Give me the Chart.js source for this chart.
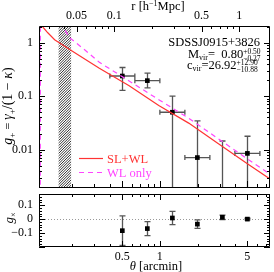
<!DOCTYPE html>
<html>
<head>
<meta charset="utf-8">
<script src="https://cdn.jsdelivr.net/npm/chart.js@4.4.0/dist/chart.umd.min.js"></script>
<style>
    html, body { margin: 0; padding: 0; background: #fff; }
    #wrap { position: relative; width: 274px; height: 272px; overflow: hidden; }
    canvas { position: absolute; left: 0; }
    #mainChart { top: 0; }
    #crossChart { top: 190px; }
</style>
</head>
<body>
<div id="wrap">
    <canvas id="mainChart" width="274" height="191"></canvas>
    <canvas id="crossChart" width="274" height="82"></canvas>
</div>
<script>
// ── Data ───────────────────────────────────────────────────────────────
const thetaBins  = [0.501, 0.794, 1.259, 1.995, 3.162, 5.012];
const thetaBinLo = [0.398, 0.631, 1.000, 1.585, 2.512, 3.981];
const thetaBinHi = [0.631, 1.000, 1.585, 2.512, 3.981, 6.310];

const gPlus      = [0.238, 0.195, 0.050, 0.0071, -0.005, 0.0085];
const gPlusErrHi = [0.105, 0.075, 0.050, 0.0274, 0.0195, 0.0093];
const gPlusErrLo = [0.110, 0.052, 0.060, 0.0300, 0.0195, 0.0093];

const gCross    = [-0.083, -0.068, 0.008, -0.036, 0.013, 0.000];
const gCrossErr = [0.106, 0.050, 0.048, 0.030, 0.016, 0.006];

// model curves
const slWlTheta = [0.1118, 0.1157, 0.127, 0.144, 0.19, 0.328, 0.568, 0.98, 1.70, 2.94, 5.08, 7.6];
const slWlG     = [2.64, 1.97, 1.53, 1.135, 0.744, 0.333, 0.156, 0.067, 0.0313, 0.0129, 0.0053, 0.00282];
const wlTheta   = [0.1105, 0.1107, 0.15, 0.19, 0.249, 0.328, 0.568, 0.98, 1.70, 2.94, 5.08, 7.6];
const wlG       = [0.0015, 8, 3, 1.235, 0.744, 0.43, 0.192, 0.086, 0.0387, 0.0159, 0.00656, 0.00348];

// excluded (hatched) range, arcmin
const hatchTheta = [0.155, 0.195];

// axes
const thetaMin = 0.108, thetaMax = 7.6;
const gMin = 0.002, gMax = 2.05;
const gxMin = -0.2, gxMax = 0.18;
const mpcPerArcmin = 0.232;

const thetaTicks = [0.5, 1, 5];
const rTicks = [0.05, 0.1, 0.5, 1];
const gTicks = [0.01, 0.1, 1];
const gxTicks = [-0.1, 0, 0.1];

const RED = '#ff3333';
const MAGENTA = '#ff44ff';
const FONT = "'Liberation Serif', 'DejaVu Serif', serif";

// ── Helpers ────────────────────────────────────────────────────────────
function logMarks(min, max, majors) {
    const out = [];
    for (let e = Math.floor(Math.log10(min)) - 1; e <= Math.ceil(Math.log10(max)); e++) {
        for (let m = 1; m <= 9; m++) {
            const v = m * Math.pow(10, e);
            if (v >= min && v <= max) out.push({ v, major: majors.includes(m) });
        }
    }
    return out;
}

function linMarks(min, max, step, every) {
    const out = [];
    for (let i = Math.ceil(min / step); i * step <= max + 1e-9; i++) {
        out.push({ v: i * step, major: i % every === 0 });
    }
    return out;
}

function tickX(ctx, scale, a, marks, top, bottom) {
    marks.forEach(m => {
        const px = Math.round(scale.getPixelForValue(m.v)) + 0.5;
        const len = m.major ? 6 : 3;
        if (top) { ctx.moveTo(px, a.top); ctx.lineTo(px, a.top + len); }
        if (bottom) { ctx.moveTo(px, a.bottom); ctx.lineTo(px, a.bottom - len); }
    });
}

function tickY(ctx, scale, a, marks) {
    marks.forEach(m => {
        const py = Math.round(scale.getPixelForValue(m.v)) + 0.5;
        const len = m.major ? 6 : 3;
        ctx.moveTo(a.left, py); ctx.lineTo(a.left + len, py);
        ctx.moveTo(a.right, py); ctx.lineTo(a.right - len, py);
    });
}

// no extra label padding: keep the plot box where we put it
function fixBox(size, key) {
    return s => {
        s[key] = size;
        s.paddingTop = 0; s.paddingBottom = 0; s.paddingLeft = 0; s.paddingRight = 0;
    };
}

// parts: [{t, size, dy, italic, color, stack}] drawn left to right
function richText(ctx, parts, x, y, align) {
    const widthOf = p => {
        ctx.font = (p.italic ? 'italic ' : '') + p.size + 'px ' + FONT;
        if (p.stack) return Math.max(...p.stack.map(s => { ctx.font = s.size + 'px ' + FONT; return ctx.measureText(s.t).width; }));
        return ctx.measureText(p.t).width;
    };
    const total = parts.reduce((s, p) => s + widthOf(p), 0);
    let cx = align === 'center' ? x - total / 2 : (align === 'right' ? x - total : x);
    ctx.textAlign = 'left';
    ctx.textBaseline = 'alphabetic';
    parts.forEach(p => {
        const w = widthOf(p);
        if (p.stack) {
            p.stack.forEach(s => {
                ctx.font = s.size + 'px ' + FONT;
                ctx.fillStyle = p.color || '#000';
                ctx.fillText(s.t, cx, y + s.dy);
            });
        } else {
            ctx.font = (p.italic ? 'italic ' : '') + p.size + 'px ' + FONT;
            ctx.fillStyle = p.color || '#000';
            ctx.fillText(p.t, cx, y + (p.dy || 0));
        }
        cx += w;
    });
}

function errorBarsV(ctx, xs, ys, a, xv, yv, hi, lo, cap) {
    const px = Math.round(xs.getPixelForValue(xv)) + 0.5;
    const top = ys.getPixelForValue(yv + hi);
    const botVal = yv - lo;
    let bot = ys.getPixelForValue(botVal);
    if (!isFinite(bot) || botVal <= 0 && ys.type === 'logarithmic') bot = a.bottom + 2;
    ctx.moveTo(px, top); ctx.lineTo(px, bot);
    ctx.moveTo(px - cap, top); ctx.lineTo(px + cap, top);
    if (bot < a.bottom) { ctx.moveTo(px - cap, bot); ctx.lineTo(px + cap, bot); }
}

function errorBarsH(ctx, xs, ys, xlo, xhi, yv, cap) {
    const py = ys.getPixelForValue(yv);
    if (!isFinite(py)) return;
    const l = xs.getPixelForValue(xlo), r = xs.getPixelForValue(xhi);
    ctx.moveTo(l, py); ctx.lineTo(r, py);
    ctx.moveTo(l, py - cap); ctx.lineTo(l, py + cap);
    ctx.moveTo(r, py - cap); ctx.lineTo(r, py + cap);
}

const tickFont = { family: FONT, size: 12 };

// ── Main panel decorations ─────────────────────────────────────────────
const mainDecor = {
    id: 'mainDecor',
    beforeDatasetsDraw(chart) {
        const { ctx, chartArea: a, scales } = chart;
        const xs = scales.x, ys = scales.y;
        ctx.save();
        ctx.beginPath();
        ctx.rect(a.left, a.top, a.right - a.left, a.bottom - a.top);
        ctx.clip();

        // hatched region
        const hl = xs.getPixelForValue(hatchTheta[0]);
        const hr = xs.getPixelForValue(hatchTheta[1]);
        ctx.save();
        ctx.beginPath();
        ctx.rect(hl, a.top, hr - hl, a.bottom - a.top);
        ctx.clip();
        ctx.fillStyle = '#fff';
        ctx.fillRect(hl, a.top, hr - hl, a.bottom - a.top);
        ctx.strokeStyle = '#333';
        ctx.lineWidth = 1;
        ctx.beginPath();
        const h = a.bottom - a.top;
        for (let d = -h; d < hr - hl + h; d += 2.6) {
            ctx.moveTo(hl + d, a.bottom);
            ctx.lineTo(hl + d + h, a.top);
        }
        ctx.stroke();
        ctx.restore();

        // error bars
        ctx.strokeStyle = '#555';
        ctx.lineWidth = 1.3;
        ctx.beginPath();
        thetaBins.forEach((t, i) => {
            errorBarsV(ctx, xs, ys, a, t, gPlus[i], gPlusErrHi[i], gPlusErrLo[i], 3);
            errorBarsH(ctx, xs, ys, thetaBinLo[i], thetaBinHi[i], gPlus[i], 2.5);
        });
        ctx.stroke();
        ctx.restore();
    },
    afterDraw(chart) {
        const { ctx, chartArea: a, scales } = chart;
        ctx.save();
        ctx.strokeStyle = '#000';
        ctx.lineWidth = 1;
        ctx.beginPath();
        ctx.rect(a.left + 0.5, a.top + 0.5, a.right - a.left - 1, a.bottom - a.top);
        tickX(ctx, scales.x, a, logMarks(thetaMin, thetaMax, [1, 5]), false, true);
        tickX(ctx, scales.x2, a, logMarks(thetaMin * mpcPerArcmin, thetaMax * mpcPerArcmin, [1, 5]), true, false);
        tickY(ctx, scales.y, a, logMarks(gMin, gMax, [1]));
        ctx.stroke();

        // legend
        ctx.lineWidth = 1.2;
        ctx.strokeStyle = RED;
        ctx.beginPath(); ctx.moveTo(79, 158.5); ctx.lineTo(103, 158.5); ctx.stroke();
        ctx.strokeStyle = MAGENTA;
        ctx.setLineDash([5, 4]);
        ctx.beginPath(); ctx.moveTo(79, 172.5); ctx.lineTo(103, 172.5); ctx.stroke();
        ctx.setLineDash([]);
        richText(ctx, [{ t: 'SL+WL', size: 12.5, color: RED }], 107, 162.5, 'left');
        richText(ctx, [{ t: 'WL only', size: 12.5, color: MAGENTA }], 107, 176.5, 'left');

        // annotation
        richText(ctx, [{ t: 'SDSSJ0915+3826', size: 12.5 }], 260, 46, 'right');
        richText(ctx, [
            { t: 'M', size: 12.5 }, { t: 'vir', size: 8, dy: 2 }, { t: '=  0.80', size: 12.5 },
            { stack: [{ t: '+0.50', size: 7.5, dy: -4 }, { t: '\u22120.27', size: 7.5, dy: 3 }] }
        ], 188, 57.5, 'left');
        richText(ctx, [
            { t: 'c', size: 12.5 }, { t: 'vir', size: 8, dy: 2 }, { t: '=26.92', size: 12.5 },
            { stack: [{ t: '+12.90', size: 7.5, dy: -4 }, { t: '\u221210.88', size: 7.5, dy: 3 }] }
        ], 187, 69, 'left');

        // top axis title
        richText(ctx, [{ t: 'r [h', size: 12.5 }, { t: '\u22121', size: 8, dy: -4 }, { t: 'Mpc]', size: 12.5 }], 158, 10, 'center');

        // y axis title (rotated)
        ctx.translate(12, 106);
        ctx.rotate(-Math.PI / 2);
        richText(ctx, [
            { t: 'g', size: 14, italic: true }, { t: '+', size: 9, dy: 3 },
            { t: ' = ', size: 12 }, { t: '\u03b3', size: 14, italic: true }, { t: '+', size: 9, dy: 3 },
            { t: '/(1 \u2212 ', size: 14 }, { t: '\u03ba', size: 14, italic: true }, { t: ')', size: 14 }
        ], 0, 0, 'center');
        ctx.restore();
    }
};

const mainChart = new Chart(document.getElementById('mainChart'), {
    type: 'scatter',
    data: {
        datasets: [
            {
                label: 'SL+WL',
                type: 'line',
                data: slWlTheta.map((t, i) => ({ x: t, y: slWlG[i] })),
                borderColor: RED,
                borderWidth: 1.2,
                pointRadius: 0,
                tension: 0,
                clip: 0
            },
            {
                label: 'WL only',
                type: 'line',
                data: wlTheta.map((t, i) => ({ x: t, y: wlG[i] })),
                borderColor: MAGENTA,
                borderWidth: 1.2,
                borderDash: [5, 4],
                pointRadius: 0,
                tension: 0,
                clip: 0
            },
            {
                label: 'g+',
                data: thetaBins.map((t, i) => ({ x: t, y: gPlus[i] })),
                pointStyle: 'rect',
                pointRadius: 3.3,
                backgroundColor: '#000',
                borderColor: '#000',
                borderWidth: 0
            }
        ]
    },
    options: {
        responsive: false,
        animation: false,
        devicePixelRatio: 1,
        layout: { padding: { left: 0, right: 2, top: 0, bottom: 1 } },
        plugins: { legend: { display: false }, tooltip: { enabled: false } },
        scales: {
            x: { type: 'logarithmic', min: thetaMin, max: thetaMax, display: false },
            x2: {
                type: 'logarithmic',
                axis: 'x',
                position: 'top',
                min: thetaMin * mpcPerArcmin,
                max: thetaMax * mpcPerArcmin,
                afterBuildTicks: s => { s.ticks = rTicks.map(v => ({ value: v })); },
                afterFit: fixBox(26, 'height'),
                grid: { display: false, drawTicks: false },
                border: { display: false },
                ticks: { autoSkip: false, maxRotation: 0, padding: 3, color: '#000', font: tickFont, callback: v => String(v) }
            },
            y: {
                type: 'logarithmic',
                min: gMin,
                max: gMax,
                afterBuildTicks: s => { s.ticks = gTicks.map(v => ({ value: v })); },
                afterFit: fixBox(39, 'width'),
                grid: { display: false, drawTicks: false },
                border: { display: false },
                ticks: { autoSkip: false, padding: 6, color: '#000', font: tickFont, callback: v => String(v) }
            }
        }
    },
    plugins: [mainDecor]
});

// ── Cross shear panel ──────────────────────────────────────────────────
const crossDecor = {
    id: 'crossDecor',
    beforeDatasetsDraw(chart) {
        const { ctx, chartArea: a, scales } = chart;
        const xs = scales.x, ys = scales.y;
        ctx.save();
        // zero line
        ctx.strokeStyle = '#999';
        ctx.lineWidth = 1;
        ctx.setLineDash([1, 2]);
        const y0 = Math.round(ys.getPixelForValue(0)) + 0.5;
        ctx.beginPath(); ctx.moveTo(a.left, y0); ctx.lineTo(a.right, y0); ctx.stroke();
        ctx.setLineDash([]);

        ctx.beginPath();
        ctx.rect(a.left, a.top, a.right - a.left, a.bottom - a.top);
        ctx.clip();
        ctx.strokeStyle = '#555';
        ctx.lineWidth = 1.3;
        ctx.beginPath();
        thetaBins.forEach((t, i) => {
            errorBarsV(ctx, xs, ys, a, t, gCross[i], gCrossErr[i], gCrossErr[i], 3);
        });
        ctx.stroke();
        ctx.restore();
    },
    afterDraw(chart) {
        const { ctx, chartArea: a, scales } = chart;
        ctx.save();
        ctx.strokeStyle = '#000';
        ctx.lineWidth = 1;
        ctx.beginPath();
        ctx.rect(a.left + 0.5, a.top + 0.5, a.right - a.left - 1, a.bottom - a.top - 1);
        tickX(ctx, scales.x, a, logMarks(thetaMin, thetaMax, [1, 5]), true, true);
        tickY(ctx, scales.y, a, linMarks(gxMin, gxMax, 0.02, 5));
        ctx.stroke();

        richText(ctx, [{ t: '\u03b8', size: 12.5, italic: true }, { t: ' [arcmin]', size: 12.5 }], 156, 80, 'center');

        ctx.translate(13, 28);
        ctx.rotate(-Math.PI / 2);
        richText(ctx, [{ t: 'g', size: 13, italic: true }, { t: '\u00d7', size: 8, dy: 3 }], 0, 0, 'center');
        ctx.restore();
    }
};

const crossChart = new Chart(document.getElementById('crossChart'), {
    type: 'scatter',
    data: {
        datasets: [{
            label: 'gx',
            data: thetaBins.map((t, i) => ({ x: t, y: gCross[i] })),
            pointStyle: 'rect',
            pointRadius: 3.3,
            backgroundColor: '#000',
            borderColor: '#000',
            borderWidth: 0
        }]
    },
    options: {
        responsive: false,
        animation: false,
        devicePixelRatio: 1,
        layout: { padding: { left: 0, right: 2, top: 0, bottom: 0 } },
        plugins: { legend: { display: false }, tooltip: { enabled: false } },
        scales: {
            x: {
                type: 'logarithmic',
                min: thetaMin,
                max: thetaMax,
                afterBuildTicks: s => { s.ticks = thetaTicks.map(v => ({ value: v })); },
                afterFit: fixBox(25, 'height'),
                grid: { display: false, drawTicks: false },
                border: { display: false },
                ticks: { autoSkip: false, maxRotation: 0, padding: 3, color: '#000', font: tickFont, callback: v => String(v) }
            },
            y: {
                type: 'linear',
                min: gxMin,
                max: gxMax,
                afterBuildTicks: s => { s.ticks = gxTicks.map(v => ({ value: v })); },
                afterFit: fixBox(39, 'width'),
                grid: { display: false, drawTicks: false },
                border: { display: false },
                ticks: { autoSkip: false, padding: 6, color: '#000', font: tickFont, callback: v => v < 0 ? '\u2212' + Math.abs(v) : String(v) }
            }
        }
    },
    plugins: [crossDecor]
});
</script>
</body>
</html>
